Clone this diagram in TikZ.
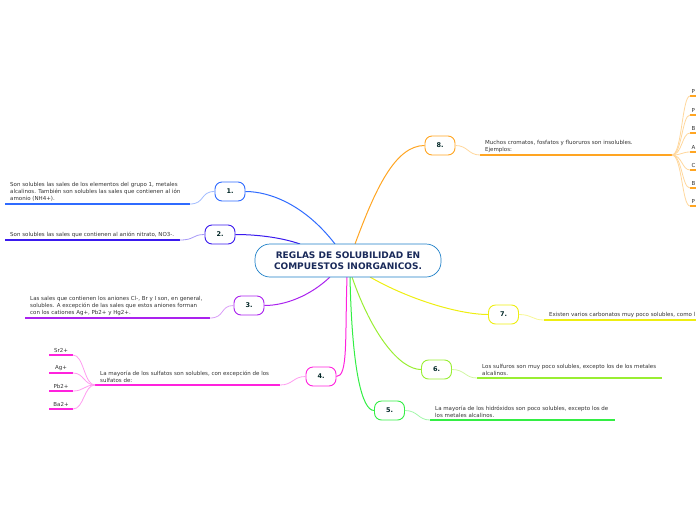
\documentclass[tikz,border=0pt]{standalone}
\usepackage{fontspec}
\setmainfont{DejaVu Sans}
\begin{document}
\begin{tikzpicture}[x=1pt,y=-1pt,
  topic/.style={draw=#1,line width=0.9pt,rounded corners=7pt,fill=white,minimum width=30pt,minimum height=19pt,inner sep=0pt,font=\fontsize{6.5}{7}\selectfont\bfseries,text=black!70!teal},
  leaf/.style={font=\fontsize{5.5}{7}\selectfont,text=black!80,align=left,inner xsep=5pt,inner ysep=2.5pt,anchor=south west},
  sub/.style={font=\fontsize{5.5}{7}\selectfont,text=black!80,inner xsep=0pt,inner ysep=2.5pt,anchor=south},
  branch/.style={draw=#1,line width=1pt},
  uline/.style={draw=#1,line width=1.6pt},
  thin/.style={draw=#1!45,line width=0.8pt}]
\useasboundingbox (0,0) rectangle (696,520);
\definecolor{c1}{HTML}{2F6BFF}
\definecolor{c2}{HTML}{3A1AEE}
\definecolor{c3}{HTML}{AA22EE}
\definecolor{c4}{HTML}{FF22DD}
\definecolor{c5}{HTML}{33EE44}
\definecolor{c6}{HTML}{99EE33}
\definecolor{c7}{HTML}{EEEE11}
\definecolor{c8}{HTML}{FFA522}
\definecolor{cc}{HTML}{1E7FC8}
\definecolor{navy}{HTML}{1A2A5A}

% branch start points on central node
\coordinate (s1) at (335,244);
\coordinate (s2) at (300,244);
\coordinate (s8) at (355,244);
\coordinate (s3) at (330,277);
\coordinate (s4) at (347,277);
\coordinate (s5) at (350,277);
\coordinate (s6) at (352,277);
\coordinate (s7) at (370,277);

% topic nodes
\node[topic=c1] (b1) at (230,191.5) {1.};
\node[topic=c2] (b2) at (220,234.5) {2.};
\node[topic=c3] (b3) at (249,305.5) {3.};
\node[topic=c4] (b4) at (321,376.5) {4.};
\node[topic=c5] (b5) at (389.5,410.5) {5.};
\node[topic=c6] (b6) at (436.5,369.5) {6.};
\node[topic=c7] (b7) at (503.5,314.5) {7.};
\node[topic=c8] (b8) at (440,145.5) {8.};

% branches
\draw[branch=c1] (s1) .. controls (305,205) and (270,191.5) .. (b1.east);
\draw[branch=c2] (s2) .. controls (280,237) and (255,234.5) .. (b2.east);
\draw[branch=c3] (s3) .. controls (310,296) and (285,305.5) .. (b3.east);
\draw[branch=c4] (s4) .. controls (345,340) and (348,376.5) .. (b4.east);
\draw[branch=c5] (s5) .. controls (352,370) and (362,410.5) .. (b5.west);
\draw[branch=c6] (s6) .. controls (372,335) and (400,369.5) .. (b6.west);
\draw[branch=c7] (s7) .. controls (410,300) and (460,314.5) .. (b7.west);
\draw[branch=c8] (s8) .. controls (375,190) and (395,145.5) .. (b8.west);

% central node
\node[draw=cc,line width=0.7pt,rounded corners=15pt,fill=white,minimum width=186pt,minimum height=33pt,
  font=\fontsize{9}{11}\selectfont\bfseries,text=navy,align=center] (c) at (348,260.5)
  {REGLAS DE SOLUBILIDAD EN\\COMPUESTOS INORGANICOS.};

% underline end points
\coordinate (a1) at (5,204);   \coordinate (z1) at (190,204);
\coordinate (a2) at (5,240);   \coordinate (z2) at (180,240);
\coordinate (a3) at (25,318);  \coordinate (z3) at (210,318);
\coordinate (a4) at (95,385);  \coordinate (z4) at (280,385);
\coordinate (a5) at (430,420); \coordinate (z5) at (615,420);
\coordinate (a6) at (477,378); \coordinate (z6) at (662,378);
\coordinate (a7) at (544,320); \coordinate (z7) at (700,320);
\coordinate (a8) at (480,155); \coordinate (z8) at (672,155);

% leaves
\node[leaf] (l1) at (a1) {Son solubles las sales de los elementos del grupo 1, metales\\alcalinos. También son solubles las sales que contienen al ión\\amonio (NH4+).};
\draw[uline=c1] (a1) -- (z1);
\draw[thin=c1] (b1.west) .. controls (200,191.5) and (205,204) .. (z1);

\node[leaf] (l2) at (a2) {Son solubles las sales que contienen al anión nitrato, NO3-.};
\draw[uline=c2] (a2) -- (z2);
\draw[thin=c2] (b2.west) .. controls (192,234.5) and (195,240) .. (z2);

\node[leaf] (l3) at (a3) {Las sales que contienen los aniones Cl-, Br y I son, en general,\\solubles. A excepción de las sales que estos aniones forman\\con los cationes Ag+, Pb2+ y Hg2+.};
\draw[uline=c3] (a3) -- (z3);
\draw[thin=c3] (b3.west) .. controls (220,305.5) and (225,318) .. (z3);

\node[leaf] (l4) at (a4) {La mayoría de los sulfatos son solubles, con excepción de los\\sulfatos de:};
\draw[uline=c4] (a4) -- (z4);
\draw[thin=c4] (b4.west) .. controls (293,376.5) and (293,385) .. (z4);

\node[leaf] (l5) at (a5) {La mayoría de los hidróxidos son poco solubles, excepto los de\\los metales alcalinos.};
\draw[uline=c5] (a5) -- (z5);
\draw[thin=c5] (b5.east) .. controls (418,410.5) and (418,420) .. (a5);

\node[leaf] (l6) at (a6) {Los sulfuros son muy poco solubles, excepto los de los metales\\alcalinos.};
\draw[uline=c6] (a6) -- (z6);
\draw[thin=c6] (b6.east) .. controls (465,369.5) and (465,378) .. (a6);

\node[leaf] (l7) at (a7) {Existen varios carbonatos muy poco solubles, como l};
\draw[uline=c7] (a7) -- (z7);
\draw[thin=c7] (b7.east) .. controls (532,314.5) and (532,320) .. (a7);

\node[leaf] (l8) at (a8) {Muchos cromatos, fosfatos y fluoruros son insolubles.\\Ejemplos:};
\draw[uline=c8] (a8) -- (z8);
\draw[thin=c8] (b8.east) .. controls (468,145.5) and (468,155) .. (a8);

% sub-leaves of 4
\foreach \n/\t/\y in {a/Sr2+/355,b/Ag+/373,c/Pb2+/391,d/Ba2+/409}{
  \coordinate (u\n) at (49,\y);
  \coordinate (v\n) at (73,\y);
  \node[sub] (t\n) at (61,\y) {\t};
  \draw[uline=c4] (u\n) -- (v\n);
  \draw[thin=c4] (a4) .. controls (84,385) and (84,\y) .. (v\n);
}

% sub-leaves of 8 (cut by the edge)
\foreach \n/\t/\y in {a/P/96,b/P/115,c/B/133,d/A/152,e/C/170,f/B/188,g/P/206}{
  \coordinate (p\n) at (690,\y);
  \coordinate (q\n) at (700,\y);
  \node[sub,anchor=south west] (r\n) at (691.5,\y) {\t};
  \draw[uline=c8] (p\n) -- (q\n);
  \draw[thin=c8] (z8) .. controls (682,155) and (682,\y) .. (p\n);
}
\end{tikzpicture}
\end{document}
